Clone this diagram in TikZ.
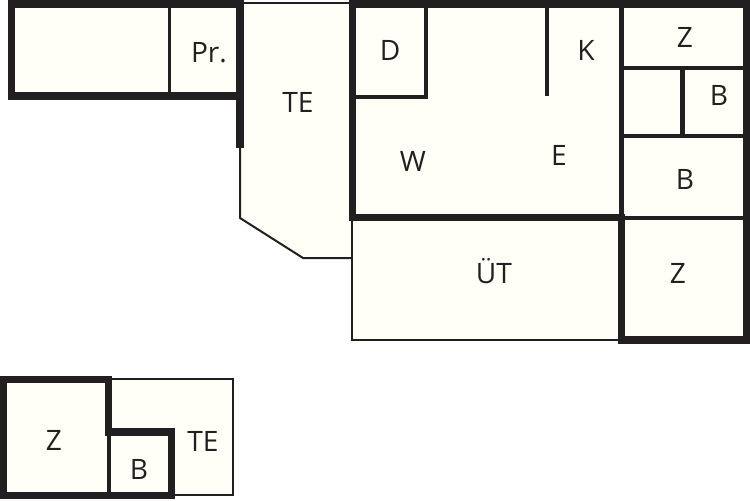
\documentclass[tikz,border=0pt]{standalone}
\usepackage{fontspec}
\setmainfont{Open Sans}
\definecolor{roomfill}{HTML}{FFFFF8}
\definecolor{wallcol}{HTML}{231F20}
\begin{document}
\begin{tikzpicture}[
            x=0.02cm, y=-0.02cm,
            room/.style={fill=roomfill, draw=none},
            wall/.style={draw=wallcol, line width=0.15cm, line join=miter},
            inner wall/.style={draw=wallcol, line width=0.085cm},
            slim wall/.style={draw=wallcol, line width=0.065cm},
            thin wall/.style={draw=wallcol, line width=0.04cm, line join=miter},
            label/.style={inner sep=0pt, text height=11.4pt, text depth=0pt, font=\fontsize{16}{19}\selectfont, text=wallcol}
        ]
            \useasboundingbox (0,0) rectangle (750,500);

            \fill[room] (11,4) rectangle (240,96);
            \fill[room] (240,4) -- (352,4) -- (352,258) -- (303,258) -- (240,218) -- cycle;
            \fill[room] (352,4) rectangle (746,340);
            \fill[room] (3,379) rectangle (233,495);

            \draw[thin wall] (243,3.5) -- (352,3.5);
            \draw[thin wall] (240,148) -- (240,218) -- (303,258) -- (352,258);
            \draw[thin wall] (352,217) -- (352,340) -- (622,340);
            \draw[thin wall] (108,379) -- (233,379) -- (233,495) -- (172,495);

            \draw[wall] (240,148) -- (240,4) -- (11.5,4) -- (11.5,96) -- (243.5,96);
            \draw[slim wall] (169.5,8) -- (169.5,93);

            \draw[wall] (352.5,221) -- (352.5,4) -- (746.5,4) -- (746.5,340) -- (621.5,340) -- (621.5,214);
            \draw[wall] (349,217.5) -- (625,217.5);
            \draw[inner wall] (621.5,8) -- (621.5,214);
            \draw[inner wall] (426,8) -- (426,98.7);
            \draw[inner wall] (356,96.7) -- (428,96.7);
            \draw[inner wall] (547,8) -- (547,96);
            \draw[inner wall] (623,68) -- (743,68);
            \draw[inner wall] (623,136) -- (743,136);
            \draw[inner wall] (682.5,70) -- (682.5,134);
            \draw[inner wall] (623,218) -- (743,218);

            \draw[wall] (108.5,436) -- (108.5,379.5) -- (3.5,379.5) -- (3.5,495.5) -- (171.5,495.5) -- (171.5,432) -- (105,432);
            \draw[slim wall] (109,436) -- (109,492);

            \node[label] (pr) at (209,52) {Pr.};
            \node[label] (te1) at (298,102) {TE};
            \node[label] (d) at (390,50) {D};
            \node[label] (k) at (586,50) {K};
            \node[label] (z1) at (685,37) {Z};
            \node[label] (b1) at (719,95) {B};
            \node[label] (w) at (413,161) {W};
            \node[label] (e) at (559,155) {E};
            \node[label] (b2) at (685,179) {B};
            \node[label] (ut) at (494,273) {ÜT};
            \node[label] (z2) at (678,273) {Z};
            \node[label] (z3) at (54,440) {Z};
            \node[label] (b3) at (139,469) {B};
            \node[label] (te2) at (203,441) {TE};
        \end{tikzpicture}
\end{document}
